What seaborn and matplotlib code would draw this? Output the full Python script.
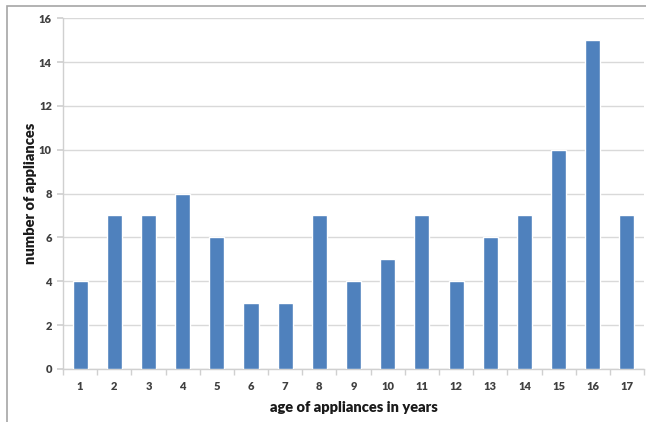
import matplotlib
matplotlib.use("Agg")
import matplotlib.pyplot as plt
import matplotlib.patches as mpatches
from matplotlib.ticker import FixedLocator
import seaborn as sns
import pandas as pd

ages = [str(i) for i in range(1, 18)]
counts = [4, 7, 7, 8, 6, 3, 3, 7, 4, 5, 7, 4, 6, 7, 10, 15, 7]
y_ticks = [0, 2, 4, 6, 8, 10, 12, 14, 16]

df = pd.DataFrame({"age": ages, "count": counts})

sns.set_theme(style="white")
plt.rcParams["font.family"] = ["Lato", "DejaVu Sans"]

fig = plt.figure(figsize=(6.46, 4.22), dpi=100)
ax = fig.add_axes([0.0975, 0.1256, 0.8995, 0.8314])

sns.barplot(data=df, x="age", y="count", color="#4F81BD", saturation=1,
            width=0.44, ax=ax, zorder=3)

ax.set_ylim(0, 16)
ax.set_xlim(-0.5, len(ages) - 0.5)
ax.set_yticks(y_ticks)
ax.yaxis.grid(True, color="#D9D9D9", linewidth=1.0, zorder=0)
ax.set_axisbelow(True)

for side in ["top", "right"]:
    ax.spines[side].set_visible(False)
for side in ["left", "bottom"]:
    ax.spines[side].set_color("#D0D0D0")
    ax.spines[side].set_linewidth(1.0)

# category separators as small ticks below the axis
ax.xaxis.set_minor_locator(FixedLocator([i - 0.5 for i in range(len(ages) + 1)]))
ax.tick_params(axis="x", which="major", length=0, pad=9)
ax.tick_params(axis="x", which="minor", length=4, color="#D0D0D0", bottom=True)
ax.tick_params(axis="y", length=4, color="#D0D0D0", left=True, pad=4)

for lab in ax.get_xticklabels() + ax.get_yticklabels():
    lab.set_fontsize(8)
    lab.set_fontweight("heavy")
    lab.set_color("#404040")

ax.set_xlabel("age of appliances in years", fontsize=10.5, fontweight="heavy",
              color="#1a1a1a", labelpad=6)
ax.set_ylabel("number of appliances", fontsize=10.5, fontweight="heavy",
              color="#1a1a1a", labelpad=1)

# outer chart frame
frame = mpatches.Rectangle((7 / 646, -0.05), 1.2, 1 - 6 / 422 + 0.05,
                           transform=fig.transFigure, fill=False,
                           edgecolor="#A6A6A6", linewidth=1.2, zorder=10)
fig.patches.append(frame)

fig.savefig("out.png", dpi=100)
